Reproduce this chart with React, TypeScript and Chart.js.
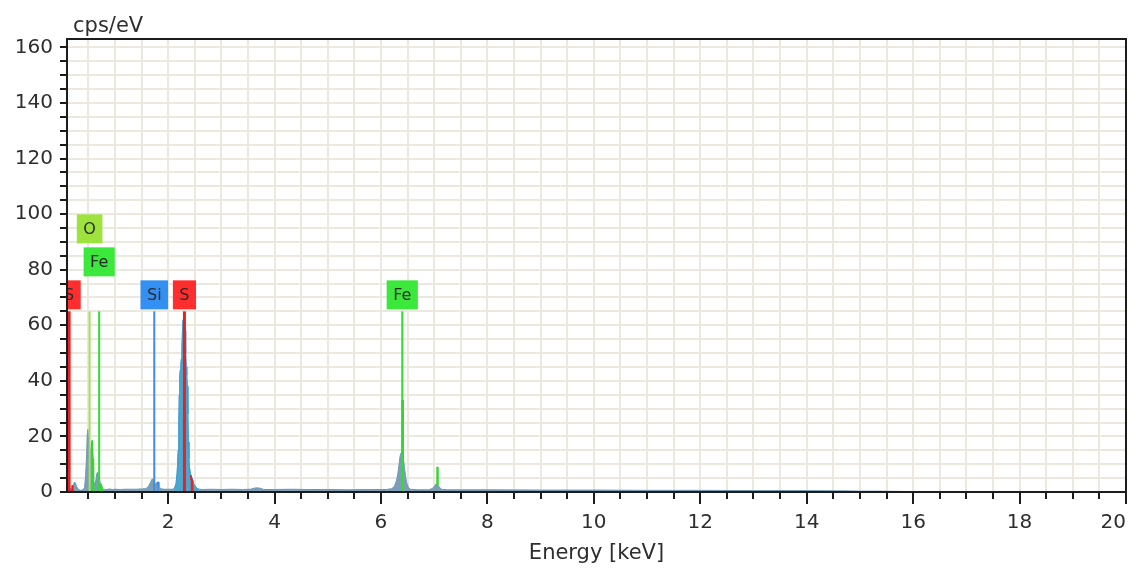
import React, { useEffect, useRef } from "react";
import { Chart, registerables } from "chart.js";

Chart.register(...registerables);

// ---- Spectrum (keV, cps/eV) ----
const energies = [
  0.10, 0.13, 0.16, 0.19, 0.22, 0.24, 0.26, 0.28, 0.31, 0.35, 0.40, 0.43, 0.45, 0.47, 0.48, 0.49, 0.50, 0.51,
  0.52, 0.53, 0.54, 0.56, 0.57, 0.58, 0.59, 0.60, 0.62, 0.64, 0.66, 0.67, 0.68, 0.70, 0.72, 0.74, 0.77, 0.80,
  0.85, 0.90, 0.95, 1.00, 1.10, 1.20, 1.30, 1.40, 1.50, 1.58, 1.63, 1.67, 1.70, 1.72, 1.74, 1.76, 1.79, 1.81,
  1.83, 1.86, 1.92, 2.00, 2.08, 2.12, 2.15, 2.17, 2.19, 2.20, 2.21, 2.22, 2.23, 2.24, 2.25, 2.26, 2.27, 2.28,
  2.29, 2.30, 2.31, 2.32, 2.33, 2.34, 2.35, 2.36, 2.37, 2.38, 2.39, 2.40, 2.42, 2.44, 2.46, 2.48, 2.51, 2.54,
  2.58, 2.65, 2.80, 3.00, 3.20, 3.40, 3.55, 3.62, 3.68, 3.74, 3.80, 4.00, 4.30, 4.60, 5.00, 5.40, 5.80, 6.10,
  6.20, 6.25, 6.29, 6.32, 6.34, 6.36, 6.38, 6.40, 6.42, 6.44, 6.46, 6.48, 6.51, 6.55, 6.70, 6.90, 6.96, 7.00,
  7.03, 7.06, 7.09, 7.13, 7.25, 7.50, 8.00, 9.00, 10.0, 11.0, 12.0, 13.0, 14.0, 14.8, 15.0, 15.4, 15.8, 16.2,
  16.6, 17.0,
];
const counts = [
  0.3, 0.8, 1.2, 0.8, 2.5, 3.6, 3.2, 2.0, 1.0, 0.6, 0.8, 1.5, 6, 14, 21, 22.5, 20, 16,
  12, 10, 14, 17, 18.5, 15, 9, 4, 2.5, 4, 6.5, 7, 6.5, 5, 3.5, 2, 1.2, 0.8,
  0.9, 1.1, 0.9, 1.0, 0.9, 1.0, 1.0, 1.0, 1.1, 1.2, 2, 3.5, 4.7, 4.5, 3.2, 2.8, 3.5, 3.4,
  2.0, 1.2, 1.0, 1.0, 1.0, 1.3, 3, 7, 15, 24, 35, 42, 44, 46, 48, 52, 58, 62,
  64, 64.5, 62, 58, 50, 45, 42, 38, 28, 18, 12, 9, 6.5, 5.5, 4.5, 3.0, 2.0, 1.3,
  1.0, 0.9, 1.0, 0.9, 1.0, 0.9, 1.0, 1.4, 1.5, 1.3, 0.9, 0.9, 1.0, 0.9, 0.9, 0.8, 0.9, 0.9,
  1.2, 2, 4, 7, 10, 13, 14.2, 14, 12.5, 9, 6, 3.5, 1.8, 1.0, 0.8, 0.8, 1.2, 2.0,
  2.8, 2.7, 2.0, 1.0, 0.8, 0.8, 0.8, 0.7, 0.7, 0.6, 0.6, 0.5, 0.5, 0.4, 0.3, 0.3, 0.2, 0.1,
  0.05, 0,
];

// Element-coloured parts of the spectrum (null = gap)
const sulfurPeakRange = [2.12, 2.58];
const greenPartE = [0.555, 0.565, 0.575, 0.59, 0.60, 0.61, 0.62, 0.72, 0.74, 0.76, 0.78, 0.79, 6.385, 6.39, 6.415, 6.42, 6.43, 7.045, 7.05, 7.065, 7.07];
const greenPartC = [0, 17, 18.5, 12, 5, 0, null, 0, 3, 2, 0, null, 14, 33, 33, 12, null, 2.7, 9, 9, 2.5];
const redPartE = [0.185, 0.19, 0.205, 0.21, 0.22, 2.42, 2.43, 2.46, 2.47];
const redPartC = [0, 2.3, 2.3, 0, null, 6, 4.5, 4.5, 0];
const bluePartE = [0.15, 0.155, 0.165, 0.17, 0.18, 1.795, 1.80, 1.82, 1.825];
const bluePartC = [0, 1.2, 1.2, 0, null, 3, 3.6, 3.6, 2];

// Identified element lines
const elementNames = ["S", "O", "Fe", "Si", "S", "Fe"];
const elementEnergies = [0.14, 0.525, 0.705, 1.74, 2.307, 6.4];
const elementLineHeight = 65;

// Axis settings
const xMin = 0.1;
const xMax = 20;
const yMin = 0;
const yMax = 163;

const ELEMENT_COLORS: Record<string, { line: string; box: string }> = {
  S: { line: "#e82222", box: "#ff2e2e" },
  O: { line: "#a4e05a", box: "#9ee23e" },
  Fe: { line: "#2fdd2f", box: "#3be83b" },
  Si: { line: "#3a8ee6", box: "#3390f2" },
};
const LABEL_LEVELS = [0, 2, 1, 0, 0, 0];

const FONT = "'DejaVu Sans', 'Open Sans', sans-serif";
const TEXT = "#2e2e2e";
const GRID = "#ece8df";

const toPoints = (xs: number[], ys: (number | null)[]) => xs.map((x, i) => ({ x, y: ys[i] }));

const isMult = (v: number, step: number) => Math.abs(v / step - Math.round(v / step)) < 1e-6;

const frameAndTicks = {
  id: "frameAndTicks",
  afterDraw(chart: any) {
    const { ctx, chartArea: ca, scales } = chart;
    const x = scales.x;
    const y = scales.y;
    ctx.save();
    ctx.strokeStyle = "#1c1c1c";
    ctx.lineWidth = 2;
    ctx.strokeRect(ca.left, ca.top, ca.right - ca.left, ca.bottom - ca.top);
    ctx.beginPath();
    for (const t of x.ticks) {
      const px = Math.round(x.getPixelForValue(t.value));
      const major = isMult(t.value, 2);
      ctx.moveTo(px, ca.bottom);
      ctx.lineTo(px, ca.bottom + (major ? 12 : 7));
    }
    for (const t of y.ticks) {
      const py = Math.round(y.getPixelForValue(t.value));
      ctx.moveTo(ca.left, py);
      ctx.lineTo(ca.left - 7, py);
    }
    ctx.stroke();
    ctx.fillStyle = TEXT;
    ctx.font = `21px ${FONT}`;
    ctx.textAlign = "left";
    ctx.textBaseline = "alphabetic";
    ctx.fillText("cps/eV", ca.left + 6, 32);
    ctx.restore();
  },
};

const elementLabels = {
  id: "elementLabels",
  afterDatasetsDraw(chart: any) {
    const { ctx, chartArea: ca, scales } = chart;
    const x = scales.x;
    const y = scales.y;
    ctx.save();
    ctx.beginPath();
    ctx.rect(ca.left, ca.top, ca.right - ca.left, ca.bottom - ca.top);
    ctx.clip();
    ctx.font = `16px ${FONT}`;
    ctx.textAlign = "center";
    ctx.textBaseline = "middle";
    elementNames.forEach((name, i) => {
      const px = x.getPixelForValue(elementEnergies[i]);
      const bottom = y.getPixelForValue(elementLineHeight) - 2 - LABEL_LEVELS[i] * 33;
      const h = 29;
      const w = ctx.measureText(name).width + 13;
      ctx.fillStyle = ELEMENT_COLORS[name].box;
      ctx.fillRect(px - w / 2, bottom - h, w, h);
      ctx.fillStyle = "#2a2a2a";
      ctx.fillText(name, px, bottom - h / 2 + 1);
    });
    ctx.restore();
  },
};

export default function App() {
  const ref = useRef<HTMLCanvasElement | null>(null);

  useEffect(() => {
    if (!ref.current) return;
    const all = toPoints(energies, counts);
    const sPart = all.filter((p) => p.x >= sulfurPeakRange[0] && p.x <= sulfurPeakRange[1]);

    const datasets: any[] = [
      {
        label: "spectrum",
        data: all,
        borderColor: "#6f97b6",
        backgroundColor: "#7e9db7",
        borderWidth: 1,
        fill: "origin",
        pointRadius: 0,
        tension: 0,
        order: 20,
      },
      {
        label: "S region",
        data: sPart,
        borderColor: "#3f9fcc",
        backgroundColor: "#4aa6cf",
        borderWidth: 1,
        fill: "origin",
        pointRadius: 0,
        order: 15,
      },
      {
        label: "green part",
        data: toPoints(greenPartE, greenPartC),
        borderColor: "#2fd62f",
        backgroundColor: "#3cd83c",
        borderWidth: 1,
        fill: "origin",
        pointRadius: 0,
        spanGaps: false,
        order: 12,
      },
      {
        label: "red part",
        data: toPoints(redPartE, redPartC),
        borderColor: "#e82020",
        backgroundColor: "#ee2525",
        borderWidth: 1,
        fill: "origin",
        pointRadius: 0,
        spanGaps: false,
        order: 12,
      },
      {
        label: "blue part",
        data: toPoints(bluePartE, bluePartC),
        borderColor: "#2f8ae8",
        backgroundColor: "#3590ee",
        borderWidth: 1,
        fill: "origin",
        pointRadius: 0,
        spanGaps: false,
        order: 12,
      },
      ...elementNames.map((name, i) => ({
        label: name + " line",
        data: [
          { x: elementEnergies[i], y: 0 },
          { x: elementEnergies[i], y: elementLineHeight },
        ],
        borderColor: ELEMENT_COLORS[name].line,
        borderWidth: name === "S" ? 3 : 2,
        fill: false,
        pointRadius: 0,
        order: 1,
      })),
    ];

    const tickFont = { family: FONT, size: 20 };

    const chart = new Chart(ref.current, {
      type: "line",
      data: { datasets },
      plugins: [frameAndTicks, elementLabels],
      options: {
        animation: false,
        responsive: true,
        maintainAspectRatio: false,
        parsing: false as any,
        normalized: true,
        layout: { padding: { top: 39, right: 7, left: 0, bottom: 0 } },
        plugins: {
          legend: { display: false },
          tooltip: { enabled: false },
        },
        elements: { line: { borderCapStyle: "butt" } },
        scales: {
          x: {
            type: "linear",
            min: xMin,
            max: xMax,
            afterBuildTicks: (s: any) => {
              s.ticks = s.ticks.filter((t: any) => isMult(t.value, 0.5));
            },
            afterFit: (s: any) => {
              s.height = 77;
              s.paddingLeft = 0;
              s.paddingRight = 0;
            },
            ticks: {
              stepSize: 0.5,
              includeBounds: false,
              autoSkip: false,
              maxRotation: 0,
              align: "inner",
              padding: 7,
              color: TEXT,
              font: tickFont,
              callback: (v: any) => (isMult(Number(v), 2) ? String(Math.round(Number(v))) : ""),
            },
            grid: { color: GRID, lineWidth: 2, tickLength: 12, tickColor: "rgba(0,0,0,0)" },
            border: { display: false },
            title: {
              display: true,
              text: "Energy [keV]",
              color: TEXT,
              font: { family: FONT, size: 21 },
              padding: { top: 0, bottom: 3 },
            },
          },
          y: {
            type: "linear",
            min: yMin,
            max: yMax,
            afterBuildTicks: (s: any) => {
              s.ticks = s.ticks.filter((t: any) => isMult(t.value, 5));
            },
            afterFit: (s: any) => {
              s.width = 67;
            },
            ticks: {
              stepSize: 5,
              includeBounds: false,
              autoSkip: false,
              padding: 7,
              color: TEXT,
              font: tickFont,
              callback: (v: any) => (isMult(Number(v), 20) ? String(Math.round(Number(v))) : ""),
            },
            grid: { color: GRID, lineWidth: 2, tickLength: 7, tickColor: "rgba(0,0,0,0)" },
            border: { display: false },
          },
        },
      },
    });
    return () => chart.destroy();
  }, []);

  return (
    <div style={{ position: "fixed", left: 0, top: 0, width: 1133, height: 569, background: "#fff" }}>
      <canvas ref={ref} />
    </div>
  );
}
